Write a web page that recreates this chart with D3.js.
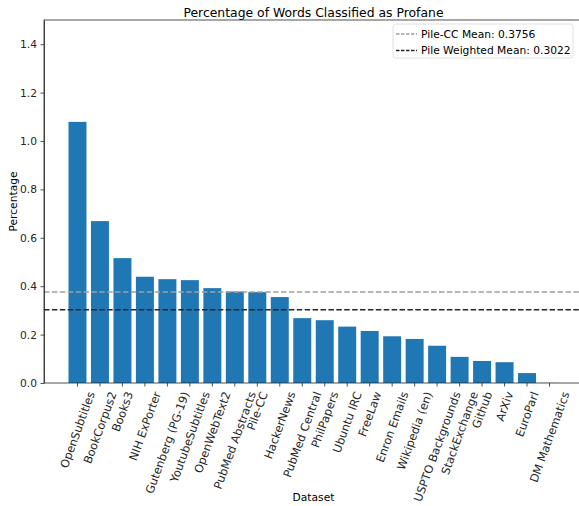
<!DOCTYPE html>
<html>
<head>
<meta charset="utf-8">
<script src="https://cdn.jsdelivr.net/npm/d3@7"></script>
<style>
  body { margin: 0; background: #fff; }
  svg { font-family: "DejaVu Sans", sans-serif; }
  .axis path, .axis line { stroke: #262626; stroke-width: 0.8; }
  .axis text { fill: #262626; }
</style>
</head>
<body>
<div id="chart"></div>
<script>
// data
const datasets = ["OpenSubtitles", "BookCorpus2", "Books3", "NIH ExPorter", "Gutenberg (PG-19)",
  "YoutubeSubtitles", "OpenWebText2", "PubMed Abstracts", "Pile-CC", "HackerNews", "PubMed Central",
  "PhilPapers", "Ubuntu IRC", "FreeLaw", "Enron Emails", "Wikipedia (en)", "USPTO Backgrounds",
  "StackExchange", "Github", "ArXiv", "EuroParl", "DM Mathematics"];
const profanePct = [1.079, 0.669, 0.516, 0.439, 0.429, 0.425, 0.392, 0.378, 0.3756, 0.355, 0.268,
  0.2595, 0.233, 0.215, 0.193, 0.182, 0.154, 0.108, 0.091, 0.086, 0.041, 0.0005];
const meanNames = ["Pile-CC Mean: 0.3756", "Pile Weighted Mean: 0.3022"];
const meanValues = [0.3756, 0.3022];
const meanColors = ["#a0a0a0", "#262626"];
const yTicks = [0, 0.2, 0.4, 0.6, 0.8, 1.0, 1.2, 1.4];

const W = 579, H = 506;
const ax = { left: 44, right: 583, top: 20, bottom: 383 };

const svg = d3.select("#chart").append("svg")
  .attr("width", W).attr("height", H);

// matplotlib-like xlim: bars -0.4..21.4 plus 5% margin
const lo = -1.49, hi = 22.49;
const frac = v => ax.left + (v - lo) / (hi - lo) * (ax.right - ax.left);
const x = d3.scaleBand()
  .domain(datasets)
  .range([frac(-0.5), frac(datasets.length - 0.5)])
  .paddingInner(0.2)
  .paddingOuter(0.1);

const y = d3.scaleLinear().domain([0, 1.5]).range([ax.bottom, ax.top]);

// title
svg.append("text")
  .attr("x", (ax.left + ax.right) / 2)
  .attr("y", 17)
  .attr("text-anchor", "middle")
  .attr("font-size", 12.4)
  .attr("fill", "#000")
  .text("Percentage of Words Classified as Profane");

// bars
svg.selectAll(".bar")
  .data(datasets)
  .enter()
  .append("rect")
  .attr("class", "bar")
  .attr("x", d => x(d))
  .attr("width", x.bandwidth())
  .attr("y", (d, i) => y(profanePct[i]))
  .attr("height", (d, i) => y(0) - y(profanePct[i]))
  .attr("fill", "#1f77b4");

// mean lines
svg.selectAll(".mean")
  .data(meanValues)
  .enter()
  .append("line")
  .attr("class", "mean")
  .attr("x1", ax.left).attr("x2", ax.right)
  .attr("y1", d => y(d)).attr("y2", d => y(d))
  .attr("stroke", (d, i) => meanColors[i])
  .attr("stroke-width", 1.5)
  .attr("stroke-dasharray", "5.5,2.4");

// y axis
const yAxis = d3.axisLeft(y).tickValues(yTicks).tickFormat(d3.format(".1f"))
  .tickSize(3.5).tickPadding(3.5).tickSizeOuter(0);
svg.append("g").attr("class", "axis y-axis")
  .attr("transform", `translate(${ax.left},0)`)
  .call(yAxis)
  .selectAll("text").attr("font-size", 10.7).attr("font-family", "DejaVu Sans");

// x axis
const xAxis = d3.axisBottom(x).tickSize(3.5).tickSizeOuter(0).tickFormat("");
const xg = svg.append("g").attr("class", "axis x-axis")
  .attr("transform", `translate(0,${ax.bottom})`)
  .call(xAxis);
xg.select(".domain").remove();

// rotated tick labels, bbox centred under tick like matplotlib rotation=70
const fs = 11.4, rot = 70 * Math.PI / 180;
xg.selectAll(".tick").each(function (d) {
  const t = d3.select(this).append("text")
    .attr("font-size", fs)
    .attr("font-family", "DejaVu Sans")
    .attr("fill", "#262626")
    .attr("text-anchor", "middle")
    .attr("dominant-baseline", "central")
    .text(d);
  const w = t.node().getComputedTextLength();
  const h = fs * 1.1;
  const half = (w * Math.sin(rot) + h * Math.cos(rot)) / 2;
  t.attr("transform", `translate(0,${3.5 + 3.5 + half}) rotate(-70)`);
});

// spines
svg.append("rect")
  .attr("x", ax.left).attr("y", ax.top)
  .attr("width", ax.right - ax.left).attr("height", ax.bottom - ax.top)
  .attr("fill", "none").attr("stroke", "#262626").attr("stroke-width", 0.8);

// axis labels
svg.append("text")
  .attr("transform", `translate(17,${(ax.top + ax.bottom) / 2}) rotate(-90)`)
  .attr("text-anchor", "middle")
  .attr("font-size", 10.7)
  .attr("fill", "#000")
  .text("Percentage");

svg.append("text")
  .attr("x", (ax.left + ax.right) / 2)
  .attr("y", 501)
  .attr("text-anchor", "middle")
  .attr("font-size", 10.7)
  .attr("fill", "#000")
  .text("Dataset");

// legend
const lg = svg.append("g").attr("transform", "translate(393,24)");
lg.append("rect")
  .attr("width", 180).attr("height", 34)
  .attr("rx", 2.5)
  .attr("fill", "#fff").attr("fill-opacity", 0.8)
  .attr("stroke", "#d8d8d8").attr("stroke-width", 0.8);
meanNames.forEach((name, i) => {
  const yy = 10 + i * 16.5;
  lg.append("line")
    .attr("x1", 3).attr("x2", 24)
    .attr("y1", yy).attr("y2", yy)
    .attr("stroke", meanColors[i])
    .attr("stroke-width", 1.5)
    .attr("stroke-dasharray", "3.5,1.5");
  lg.append("text")
    .attr("x", 28).attr("y", yy)
    .attr("dominant-baseline", "central")
    .attr("font-size", 10.7)
    .attr("fill", "#000")
    .text(name);
});
</script>
</body>
</html>
